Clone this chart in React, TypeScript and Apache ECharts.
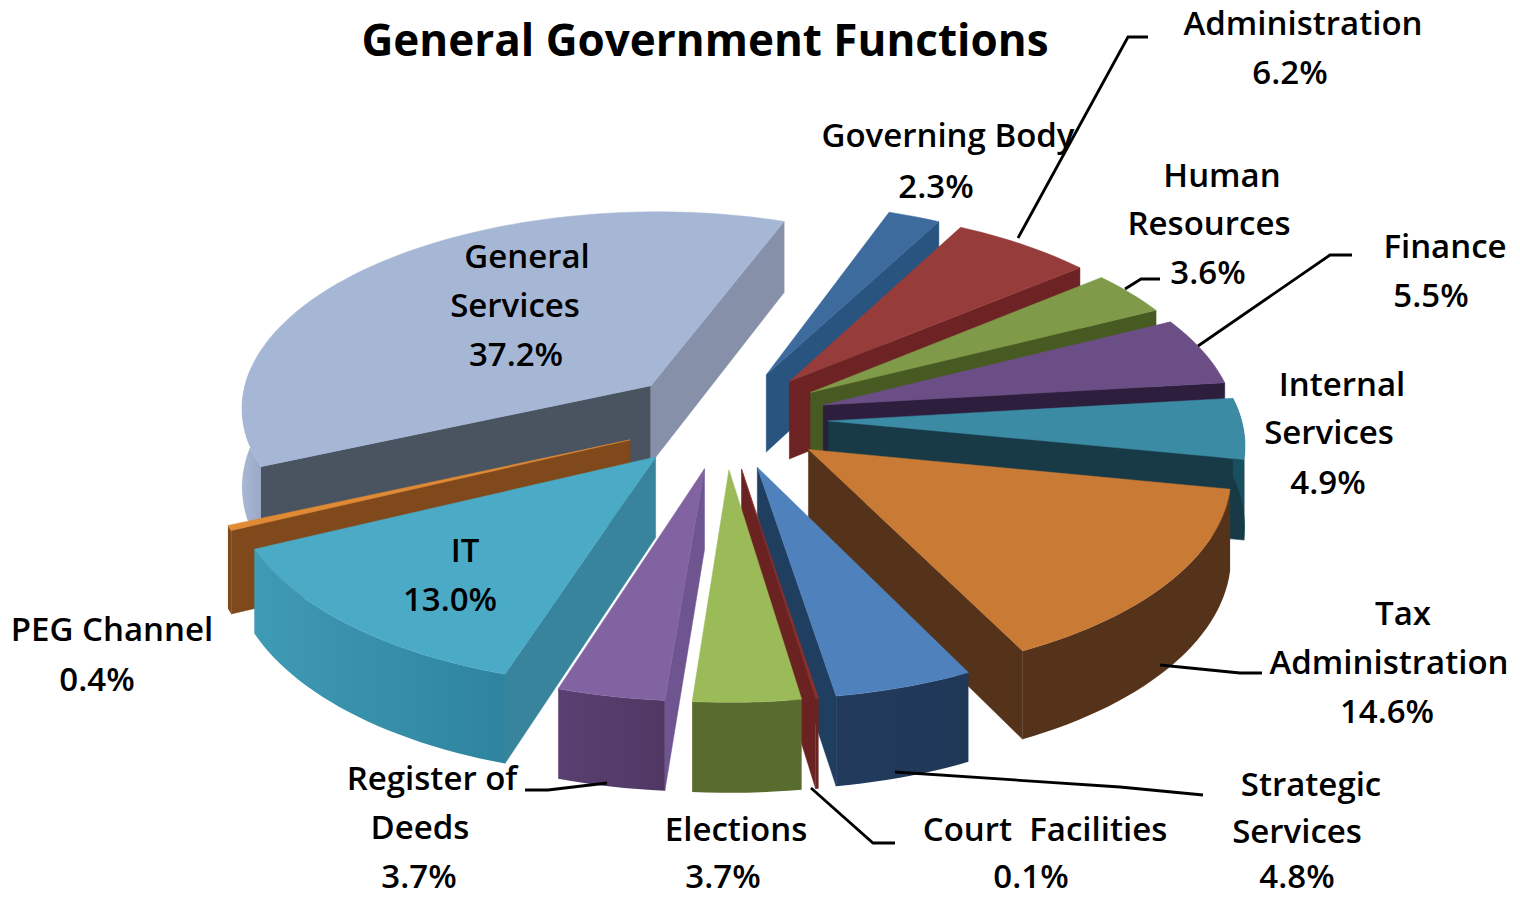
import React, { useEffect, useRef } from "react";
import * as echarts from "echarts";

const titleText = "General Government Functions";
const categories = [
  "Governing Body", "Administration", "Human Resources", "Finance", "Internal Services",
  "Tax Administration", "Strategic Services", "Court Facilities", "Elections",
  "Register of Deeds", "IT", "PEG Channel", "General Services",
];
const values = [2.3, 6.2, 3.6, 5.5, 4.9, 14.6, 4.8, 0.1, 3.7, 3.7, 13.0, 0.4, 37.2];
const labelLines = [
  ["Governing Body"], ["Administration"], ["Human", "Resources"], ["Finance"], ["Internal", "Services"],
  ["Tax", "Administration"], ["Strategic", "Services"], ["Court  Facilities"], ["Elections"],
  ["Register of", "Deeds"], ["IT"], ["PEG Channel"], ["General", "Services"],
];

// styling
const topColors = ["#3d6b9e", "#963d3b", "#7f9a48", "#6c4e86", "#3b8ba5", "#c97a35", "#4f82bd", "#8a302e", "#9bbb59", "#8263a2", "#4babc7", "#e08a35", "#a6b7d6"];
const startWall = ["#2a5480", "#6d2224", "#465a22", "#2e1e3e", "#173a46", "#54331a", "#1f3e60", "#6b2322", "#596c30", "#6e5590", "#39849d", "#80491b", "#4a5360"];
const endWall = ["#2a5480", "#6d2224", "#465a22", "#2e1e3e", "#173a46", "#54331a", "#1f3e60", "#6b2322", "#596c30", "#553b6a", "#2f7f98", "#80491b", "#8691a9"];
const outerLeft = ["#2a5480", "#6d2224", "#465a22", "#2e1e3e", "#195060", "#54331a", "#223b5c", "#6b2322", "#596c30", "#5a4072", "#3f9ab5", "#80491b", "#aab8d4"];
const outerRight = ["#2a5480", "#6d2224", "#465a22", "#2e1e3e", "#195060", "#54331a", "#1f3858", "#6b2322", "#596c30", "#503763", "#2e849e", "#80491b", "#98a8c6"];

// label layout: centre of each text line, [name lines..., value line]
const labelPos: number[][][] = [
  [[948, 134], [936, 185]],
  [[1303, 22], [1290, 71]],
  [[1222, 174], [1209, 222], [1208, 271]],
  [[1445, 245], [1431, 294]],
  [[1342, 383], [1329, 431], [1328, 481]],
  [[1403, 612], [1389, 661], [1387, 710]],
  [[1311, 783], [1297, 830], [1297, 875]],
  [[1045, 828], [1031, 875]],
  [[736, 828], [723, 875]],
  [[432, 777], [420, 826], [419, 875]],
  [[465, 549], [450, 598]],
  [[112, 628], [97, 678]],
  [[527, 255], [515, 304], [516, 353]],
];
const leaders = [
  [[1148, 37], [1128, 37], [1018, 238]],
  [[1160, 279], [1141, 279], [1125, 289]],
  [[1352, 255], [1330, 255], [1198, 346]],
  [[1262, 673], [1240, 673], [1160, 665]],
  [[1203, 795], [1120, 787], [895, 772]],
  [[895, 843], [873, 843], [811, 788]],
  [[525, 790], [548, 790], [607, 783]],
];

// projection of the 3D pie
const CX = 725, CY = 419, RX = 413, RY = 198, PERSP = 0.1014, DEPTH = 79, EXPLODE = 0.25, START_DEG = 20;

const project = (u: number, v: number, bottom: boolean): number[] => {
  const s = 1 / (1 + PERSP * v);
  return [CX + RX * u * s, CY - RY * v * s + (bottom ? DEPTH * s : 0)];
};

const total = values.reduce((a, b) => a + b, 0);
const slices = (() => {
  let acc = 0;
  return values.map((val, i) => {
    const a0 = ((START_DEG + (acc / total) * 360) * Math.PI) / 180;
    acc += val;
    const a1 = ((START_DEG + (acc / total) * 360) * Math.PI) / 180;
    const mid = (a0 + a1) / 2;
    return { i, a0, a1, mid, ox: EXPLODE * Math.sin(mid), oy: EXPLODE * Math.cos(mid) };
  });
})();
// paint the slices from the back of the pie to the front
const order = slices
  .slice()
  .sort((p, q) => q.oy - p.oy)
  .map((s) => s.i);

const renderSlice = (params: any) => {
  const s = slices[order[params.dataIndex]];
  const i = s.i;
  const n = Math.max(2, Math.ceil((s.a1 - s.a0) / 0.03));
  const arcTop: number[][] = [];
  const arcBot: number[][] = [];
  for (let k = 0; k <= n; k++) {
    const a = s.a0 + ((s.a1 - s.a0) * k) / n;
    const u = s.ox + Math.sin(a);
    const v = s.oy + Math.cos(a);
    arcTop.push(project(u, v, false));
    arcBot.push(project(u, v, true));
  }
  const apexT = project(s.ox, s.oy, false);
  const apexB = project(s.ox, s.oy, true);
  const midTop = arcTop[Math.floor(n / 2)];
  const wallVisible = (tip: number[]) => {
    const ex = tip[0] - apexT[0];
    const ey = tip[1] - apexT[1];
    const inner = ex * (midTop[1] - apexT[1]) - ey * (midTop[0] - apexT[0]);
    return ex * inner < 0;
  };
  const poly = (points: number[][], fill: any) => ({
    type: "polygon",
    shape: { points },
    style: { fill, stroke: typeof fill === "string" ? fill : undefined, lineWidth: 0.5 },
  });
  const children: any[] = [];
  const startTip = arcTop[0];
  const endTip = arcTop[n];
  if (wallVisible(startTip)) children.push(poly([apexT, startTip, arcBot[0], apexB], startWall[i]));
  if (wallVisible(endTip)) children.push(poly([apexT, endTip, arcBot[n], apexB], endWall[i]));
  // outer wall: only the part of the rim that faces the viewer
  const frontTop: number[][] = [];
  const frontBot: number[][] = [];
  for (let k = 0; k <= n; k++) {
    const a = s.a0 + ((s.a1 - s.a0) * k) / n;
    if (Math.cos(a) < 0.12) {
      frontTop.push(arcTop[k]);
      frontBot.push(arcBot[k]);
    }
  }
  if (frontTop.length > 1) {
    const grad = new echarts.graphic.LinearGradient(0, 0, 1, 0, [
      { offset: 0, color: outerLeft[i] },
      { offset: 1, color: outerRight[i] },
    ]);
    children.push(poly(frontTop.concat(frontBot.slice().reverse()), grad));
  }
  children.push(poly([apexT, ...arcTop], topColors[i]));
  return { type: "group", children };
};

const FONT = "'Open Sans', 'Noto Sans', sans-serif";

const buildGraphic = () => {
  const els: any[] = [];
  leaders.forEach((points) => {
    els.push({
      type: "polyline",
      z: 20,
      shape: { points },
      style: { stroke: "#000", lineWidth: 2.8, fill: "none" },
    });
  });
  categories.forEach((_, i) => {
    const lines = [...labelLines[i], `${values[i].toFixed(1)}%`];
    lines.forEach((text, k) => {
      const [x, y] = labelPos[i][k];
      els.push({
        type: "text",
        z: 30,
        x,
        y,
        style: {
          text,
          fill: "#000",
          fontFamily: FONT,
          fontSize: 33,
          fontWeight: 600,
          align: "center",
          verticalAlign: "middle",
        },
      });
    });
  });
  return els;
};

export default function App() {
  const ref = useRef<HTMLDivElement>(null);
  useEffect(() => {
    document.body.style.margin = "0";
    const chart = echarts.init(ref.current!, undefined, { renderer: "svg" });
    chart.setOption({
      animation: false,
      backgroundColor: "#ffffff",
      title: {
        text: titleText,
        left: 700,
        top: 12,
        textAlign: "center",
        textStyle: { fontFamily: FONT, fontSize: 44, fontWeight: "bold", color: "#000" },
      },
      series: [
        {
          type: "custom",
          coordinateSystem: "none",
          silent: true,
          renderItem: renderSlice,
          data: order.map((i) => ({ name: categories[i], value: values[i] })),
        },
      ],
      graphic: buildGraphic(),
    });
    return () => chart.dispose();
  }, []);
  return <div ref={ref} style={{ position: "absolute", left: 0, top: 0, width: 1520, height: 898 }} />;
}
